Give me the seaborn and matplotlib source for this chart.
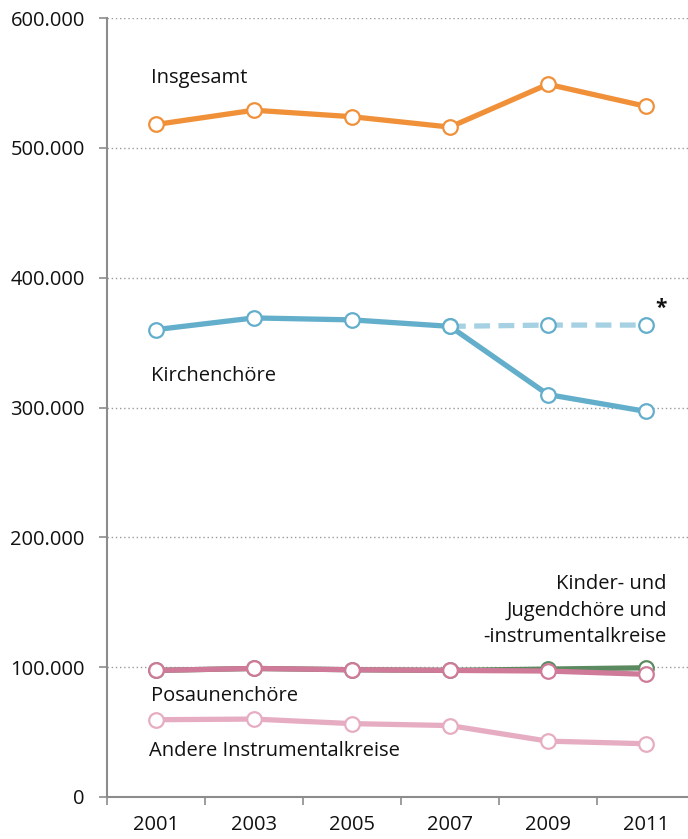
import pandas as pd
import seaborn as sns
import matplotlib.pyplot as plt

# Werte
jahre = [2001, 2003, 2005, 2007, 2009, 2011]
insgesamt = [518000, 529000, 524000, 516000, 549000, 532000]
kirchenchoere = [360000, 369000, 367500, 362500, 310000, 297000]
kirchen_ohne_bruch_jahre = [2007, 2009, 2011]
kirchen_ohne_bruch = [362500, 363500, 363500]
kinder_jugend = [97500, 99000, 98000, 97500, 98500, 99500]
posaunenchoere = [97500, 99000, 98000, 97500, 97000, 94500]
andere = [59500, 60000, 56500, 55000, 43000, 41000]

sns.set_theme(style="white")
plt.rcParams['font.family'] = ['Open Sans', 'DejaVu Sans']

fig = plt.figure(figsize=(6.88, 8.39), dpi=100)
ax = fig.add_axes([0.1555, 0.0501, 0.8445, 0.9284])

gray = "#8c8c8c"
schwarz = "#111111"

def linie(x, y, farbe, stil="-"):
    df = pd.DataFrame({"jahr": x, "wert": y})
    sns.lineplot(data=df, x="jahr", y="wert", ax=ax, color=farbe, linewidth=3.8,
                 linestyle=stil, marker="o", markersize=10.5, markerfacecolor="white",
                 markeredgecolor=farbe, markeredgewidth=1.6, clip_on=False)

linie(jahre, andere, "#e6adc2")
linie(jahre, kinder_jugend, "#5c8a60")
linie(jahre, posaunenchoere, "#cf7a98")
linie(kirchen_ohne_bruch_jahre, kirchen_ohne_bruch, "#a5d1e2", (0, (3, 1.6)))
ax.lines[-1].set_markeredgecolor("#62aecb")
linie(jahre, kirchenchoere, "#62aecb")
linie(jahre, insgesamt, "#f0913a")

ax.set_xlim(2000, 2011.86)
ax.set_ylim(0, 600000)
ax.set_xticks([2000, 2002, 2004, 2006, 2008, 2010])
ax.set_xticklabels([])
ax.set_xticks(jahre, minor=True)
ax.set_xticklabels([str(j) for j in jahre], minor=True)
ax.tick_params(axis="x", which="major", length=6, width=1.2, color=gray, direction="out", bottom=True)
ax.tick_params(axis="x", which="minor", length=0, labelsize=14.5, colors=schwarz, pad=13)

yt = [0, 100000, 200000, 300000, 400000, 500000, 600000]
ax.set_yticks(yt)
ax.set_yticklabels(["0", "100.000", "200.000", "300.000", "400.000", "500.000", "600.000"])
ax.tick_params(axis="y", length=6, width=1.2, color=gray, direction="out", left=True,
               labelsize=14.5, labelcolor=schwarz, pad=10)

for v in yt[1:]:
    ax.axhline(v, color="#9a9a9a", linewidth=1.0, linestyle=(0, (1, 2)), zorder=0)

for s in ["top", "right"]:
    ax.spines[s].set_visible(False)
for s in ["left", "bottom"]:
    ax.spines[s].set_color(gray)
    ax.spines[s].set_linewidth(1.5)
ax.set_xlabel("")
ax.set_ylabel("")

tk = dict(fontsize=14.5, color=schwarz, va="center")
ax.text(2000.9, 554000, "Insgesamt", ha="left", **tk)
ax.text(2000.9, 324500, "Kirchenchöre", ha="left", **tk)
ax.text(2011.43, 143500, "Kinder- und\nJugendchöre und\n-instrumentalkreise", ha="right",
        linespacing=1.42, **tk)
ax.text(2000.9, 78000, "Posaunenchöre", ha="left", **tk)
ax.text(2000.85, 35500, "Andere Instrumentalkreise", ha="left", **tk)
ax.text(2011.2, 376500, "*", ha="left", fontsize=15, fontweight="bold", color=schwarz, va="center")

fig.savefig("out.png", dpi=100)
